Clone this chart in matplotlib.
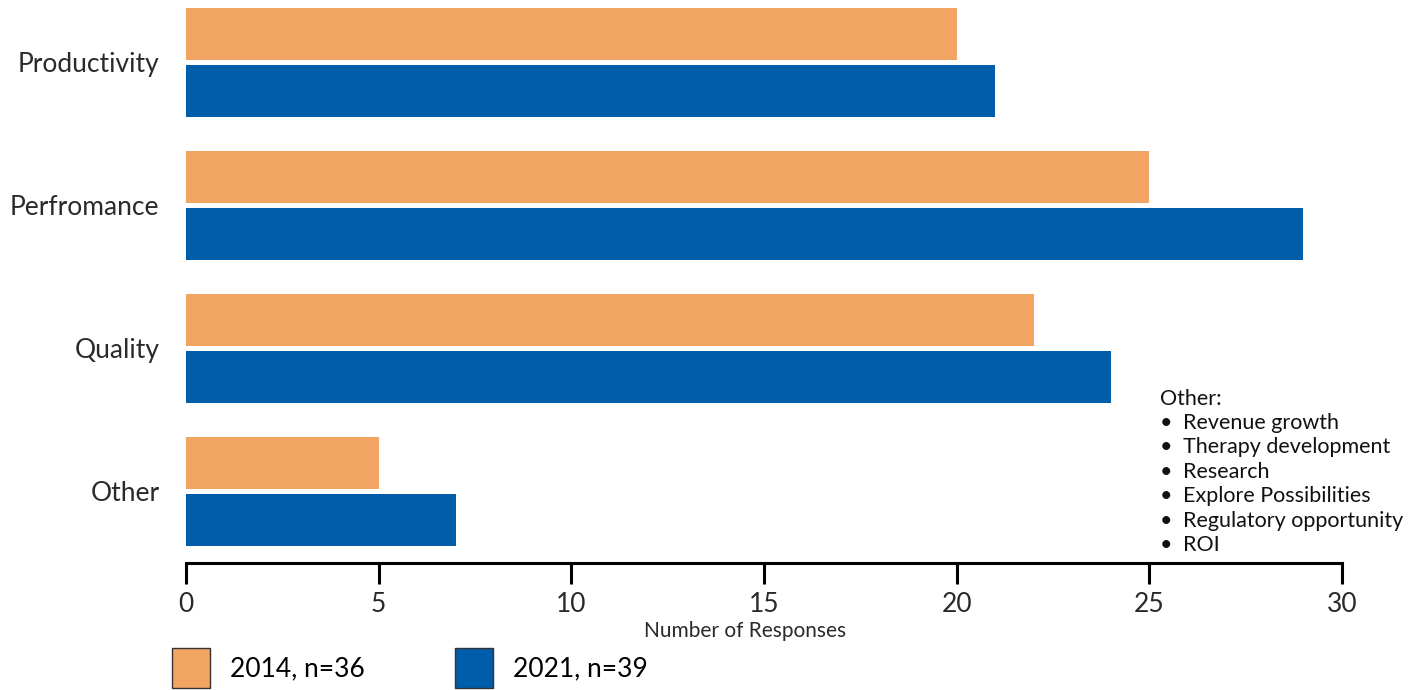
import matplotlib.pyplot as plt
import numpy as np

plt.rcParams['font.family'] = ['Lato', 'DejaVu Sans']

categories = ['Productivity', 'Perfromance', 'Quality', 'Other']
responses_2014 = [20, 25, 22, 5]
responses_2021 = [21, 29, 24, 7]
series_labels = ['2014, n=36', '2021, n=39']
other_items = ['Revenue growth', 'Therapy development', 'Research',
               'Explore Possibilities', 'Regulatory opportunity', 'ROI']

orange = '#F2A462'
blue = '#005DAA'
text_col = '#2a2a2a'

fig = plt.figure(figsize=(14.27, 6.9), dpi=100)
ax = fig.add_axes([186 / 1427, 127 / 690, 1156 / 1427, 563 / 690])

y = np.arange(len(categories))
h = 0.364
off = 0.199
b1 = ax.barh(y - off, responses_2014, height=h, color=orange, label=series_labels[0])
b2 = ax.barh(y + off, responses_2021, height=h, color=blue, label=series_labels[1])

ax.set_xlim(0, 30)
ax.set_ylim(3.5, -0.437)
ax.set_xticks(range(0, 31, 5))
ax.set_yticks(y)
ax.set_yticklabels(categories, fontsize=19, color=text_col)
ax.tick_params(axis='y', length=0, pad=19)
ax.tick_params(axis='x', length=15, width=2.2, labelsize=19, labelcolor=text_col, pad=6)

for side in ['top', 'right', 'left']:
    ax.spines[side].set_visible(False)
ax.spines['bottom'].set_linewidth(2.2)

fig.text(745 / 1427, 1 - 631 / 690, 'Number of Responses', fontsize=15,
         color=text_col, ha='center', va='center')

# bullet list describing the "Other" category
fig.text(1160 / 1427, 1 - 389 / 690, 'Other:', fontsize=15.5, va='top', color='#111111')
for i, item in enumerate(other_items):
    ypos = 1 - (413 + 24.4 * i) / 690
    fig.text(1160 / 1427, ypos, '\u2022', fontsize=15.5, va='top', color='#111111')
    fig.text(1183 / 1427, ypos, item, fontsize=15.5, va='top', color='#111111')

leg = fig.legend(handles=[b1, b2], loc='lower left', bbox_to_anchor=(172 / 1427, 2 / 690),
                 ncol=2, frameon=False, fontsize=19, handlelength=1.45, handleheight=1.95,
                 columnspacing=3.4, handletextpad=0.75, borderpad=0, borderaxespad=0)
for patch in leg.get_patches():
    patch.set_edgecolor('#333333')
    patch.set_linewidth(1)

fig.savefig('out.png', dpi=100)
